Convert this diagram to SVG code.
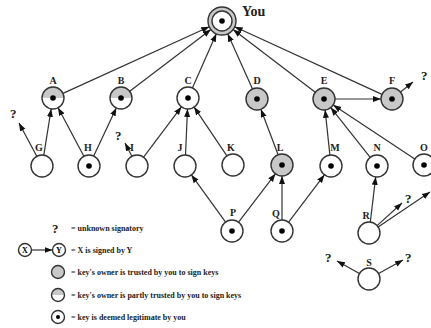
<svg xmlns="http://www.w3.org/2000/svg" width="431" height="328" viewBox="0 0 431 328">
<style>
.n{stroke:#333;stroke-width:1.4;fill:#fff}
.t{fill:#c8c8c8}
.p{fill:url(#partly)}
.d{fill:#000}
.lb{font-family:"Liberation Serif",serif;font-weight:bold;font-size:10px;text-anchor:middle;fill:#222}
.q{font-family:"Liberation Serif",serif;font-weight:bold;font-size:13px;fill:#222}
.lg{font-family:"Liberation Serif",serif;font-weight:bold;font-size:8px;fill:#222}
.e{stroke:#333;stroke-width:1.2;fill:none;marker-end:url(#ah)}
</style>
<defs>
<marker id="ah" markerUnits="userSpaceOnUse" markerWidth="9" markerHeight="7" refX="8" refY="3" orient="auto"><path d="M0,0 L8,3 L0,6 z" fill="#111"/></marker>
<linearGradient id="partly" x1="0" y1="0" x2="0" y2="1"><stop offset="0" stop-color="#c8c8c8"/><stop offset="0.5" stop-color="#c8c8c8"/><stop offset="0.5" stop-color="#fff"/><stop offset="1" stop-color="#fff"/></linearGradient>
</defs>
<rect width="431" height="328" fill="#fff"/>
<g id="connectors">
<line class="e" x1="63" y1="93.4" x2="209.3" y2="26.8"/>
<line class="e" x1="129.7" y1="91.3" x2="210.9" y2="29.5"/>
<line class="e" x1="192.4" y1="87.9" x2="216.3" y2="33.8"/>
<line class="e" x1="252.5" y1="89" x2="227.7" y2="33.8"/>
<line class="e" x1="315.3" y1="92.3" x2="233.1" y2="29.5"/>
<line class="e" x1="382" y1="94.4" x2="234.7" y2="26.8"/>
<line class="e" x1="335" y1="99" x2="381" y2="99"/>
<line class="e" x1="400.5" y1="92" x2="413" y2="82"/>
<line class="e" x1="36.8" y1="156.3" x2="19" y2="123"/>
<line class="e" x1="43.8" y1="155.1" x2="51.2" y2="108.9"/>
<line class="e" x1="83.9" y1="156.3" x2="58.1" y2="107.7"/>
<line class="e" x1="93.7" y1="156.1" x2="116.3" y2="107.9"/>
<line class="e" x1="131.9" y1="156.2" x2="125" y2="143"/>
<line class="e" x1="143.6" y1="157.2" x2="181.4" y2="106.8"/>
<line class="e" x1="185.5" y1="155" x2="187.5" y2="109"/>
<line class="e" x1="226.9" y1="155.9" x2="194.1" y2="107.1"/>
<line class="e" x1="278.1" y1="154.7" x2="260.9" y2="109.3"/>
<line class="e" x1="329.9" y1="155.1" x2="325.1" y2="109.9"/>
<line class="e" x1="370.2" y1="157.4" x2="330.8" y2="107.6"/>
<line class="e" x1="414.8" y1="158.9" x2="333.2" y2="105.1"/>
<line class="e" x1="225.6" y1="222.1" x2="191.4" y2="174.9"/>
<line class="e" x1="238.6" y1="222.2" x2="275.4" y2="173.8"/>
<line class="e" x1="282" y1="220" x2="282" y2="176"/>
<line class="e" x1="288.6" y1="222.2" x2="324.4" y2="174.8"/>
<line class="e" x1="370.3" y1="222.1" x2="375.7" y2="176.9"/>
<line class="e" x1="377.1" y1="225.6" x2="402" y2="203"/>
<line class="e" x1="378.1" y1="226.9" x2="430" y2="192"/>
<line class="e" x1="359.4" y1="273.6" x2="337" y2="261"/>
<line class="e" x1="378.6" y1="273.6" x2="403" y2="260"/>
</g>
<g id="unknown-marks">
<text class="q" x="421" y="80">?</text>
<text class="q" x="10" y="118">?</text>
<text class="q" x="115" y="140">?</text>
<text class="q" x="405" y="203">?</text>
<text class="q" x="325" y="262">?</text>
<text class="q" x="405" y="262">?</text>
</g>
<g id="node-you"><circle class="n t" cx="222" cy="21" r="14"/><circle class="n" cx="222" cy="21" r="10" fill="#eee"/><circle class="d" cx="222" cy="21" r="2.8"/><text x="242" y="16" font-family="Liberation Serif,serif" font-weight="bold" font-size="14" fill="#222">You</text></g>
<g id="node-A"><circle class="n p" cx="53" cy="98" r="11"/><circle class="d" cx="53" cy="98" r="2.8"/><text class="lb" x="53" y="84">A</text></g>
<g id="node-B"><circle class="n p" cx="121" cy="98" r="11"/><circle class="d" cx="121" cy="98" r="2.8"/><text class="lb" x="121" y="84">B</text></g>
<g id="node-C"><circle class="n" cx="188" cy="98" r="11"/><circle class="d" cx="188" cy="98" r="2.8"/><text class="lb" x="188" y="84">C</text></g>
<g id="node-D"><circle class="n t" cx="257" cy="99" r="11"/><circle class="d" cx="257" cy="99" r="2.8"/><text class="lb" x="257" y="84">D</text></g>
<g id="node-E"><circle class="n t" cx="324" cy="99" r="11"/><circle class="d" cx="324" cy="99" r="2.8"/><text class="lb" x="324" y="84">E</text></g>
<g id="node-F"><circle class="n t" cx="392" cy="99" r="11"/><circle class="d" cx="392" cy="99" r="2.8"/><text class="lb" x="392" y="84">F</text></g>
<g id="node-G"><circle class="n" cx="42" cy="166" r="11"/><text class="lb" x="39" y="151">G</text></g>
<g id="node-H"><circle class="n" cx="89" cy="166" r="11"/><circle class="d" cx="89" cy="166" r="2.8"/><text class="lb" x="88" y="151">H</text></g>
<g id="node-I"><circle class="n" cx="137" cy="166" r="11"/><text class="lb" x="132" y="151">I</text></g>
<g id="node-J"><circle class="n" cx="185" cy="166" r="11"/><text class="lb" x="180" y="151">J</text></g>
<g id="node-K"><circle class="n" cx="233" cy="165" r="11"/><text class="lb" x="231" y="151">K</text></g>
<g id="node-L"><circle class="n t" cx="282" cy="165" r="11"/><circle class="d" cx="282" cy="165" r="2.8"/><text class="lb" x="280" y="151">L</text></g>
<g id="node-M"><circle class="n" cx="331" cy="166" r="11"/><circle class="d" cx="331" cy="166" r="2.8"/><text class="lb" x="335" y="151">M</text></g>
<g id="node-N"><circle class="n" cx="377" cy="166" r="11"/><circle class="d" cx="377" cy="166" r="2.8"/><text class="lb" x="377" y="151">N</text></g>
<g id="node-O"><circle class="n" cx="424" cy="165" r="11"/><circle class="d" cx="424" cy="165" r="2.8"/><text class="lb" x="424" y="151">O</text></g>
<g id="node-P"><circle class="n" cx="232" cy="231" r="11"/><circle class="d" cx="232" cy="231" r="2.8"/><text class="lb" x="233" y="216">P</text></g>
<g id="node-Q"><circle class="n" cx="282" cy="231" r="11"/><circle class="d" cx="282" cy="231" r="2.8"/><text class="lb" x="276" y="217">Q</text></g>
<g id="node-R"><circle class="n" cx="369" cy="233" r="11"/><text class="lb" x="366" y="219">R</text></g>
<g id="node-S"><circle class="n" cx="369" cy="279" r="11"/><text class="lb" x="369" y="266">S</text></g>
<g id="legend">
<text class="q" x="52" y="233">?</text><text class="lg" x="71" y="231">= unknown signatory</text>
<circle class="n" cx="25" cy="250" r="6.5"/><text x="25" y="253" font-family="Liberation Serif,serif" font-weight="bold" font-size="8" text-anchor="middle">X</text>
<circle class="n" cx="59" cy="250" r="6.5"/><text x="59" y="253" font-family="Liberation Serif,serif" font-weight="bold" font-size="8" text-anchor="middle">Y</text>
<line class="e" x1="31.5" y1="250" x2="52.5" y2="250"/>
<text class="lg" x="71" y="253">= X is signed by Y</text>
<circle class="n t" cx="58" cy="272" r="6.5"/><text class="lg" x="71" y="275">= key's owner is trusted by you to sign keys</text>
<circle class="n p" cx="58" cy="295" r="6.5"/><text class="lg" x="71" y="298">= key's owner is partly trusted by you to sign keys</text>
<circle class="n" cx="58" cy="317" r="6.5"/><circle class="d" cx="58" cy="317" r="2"/><text class="lg" x="71" y="320">= key is deemed legitimate by you</text>
</g>
</svg>
